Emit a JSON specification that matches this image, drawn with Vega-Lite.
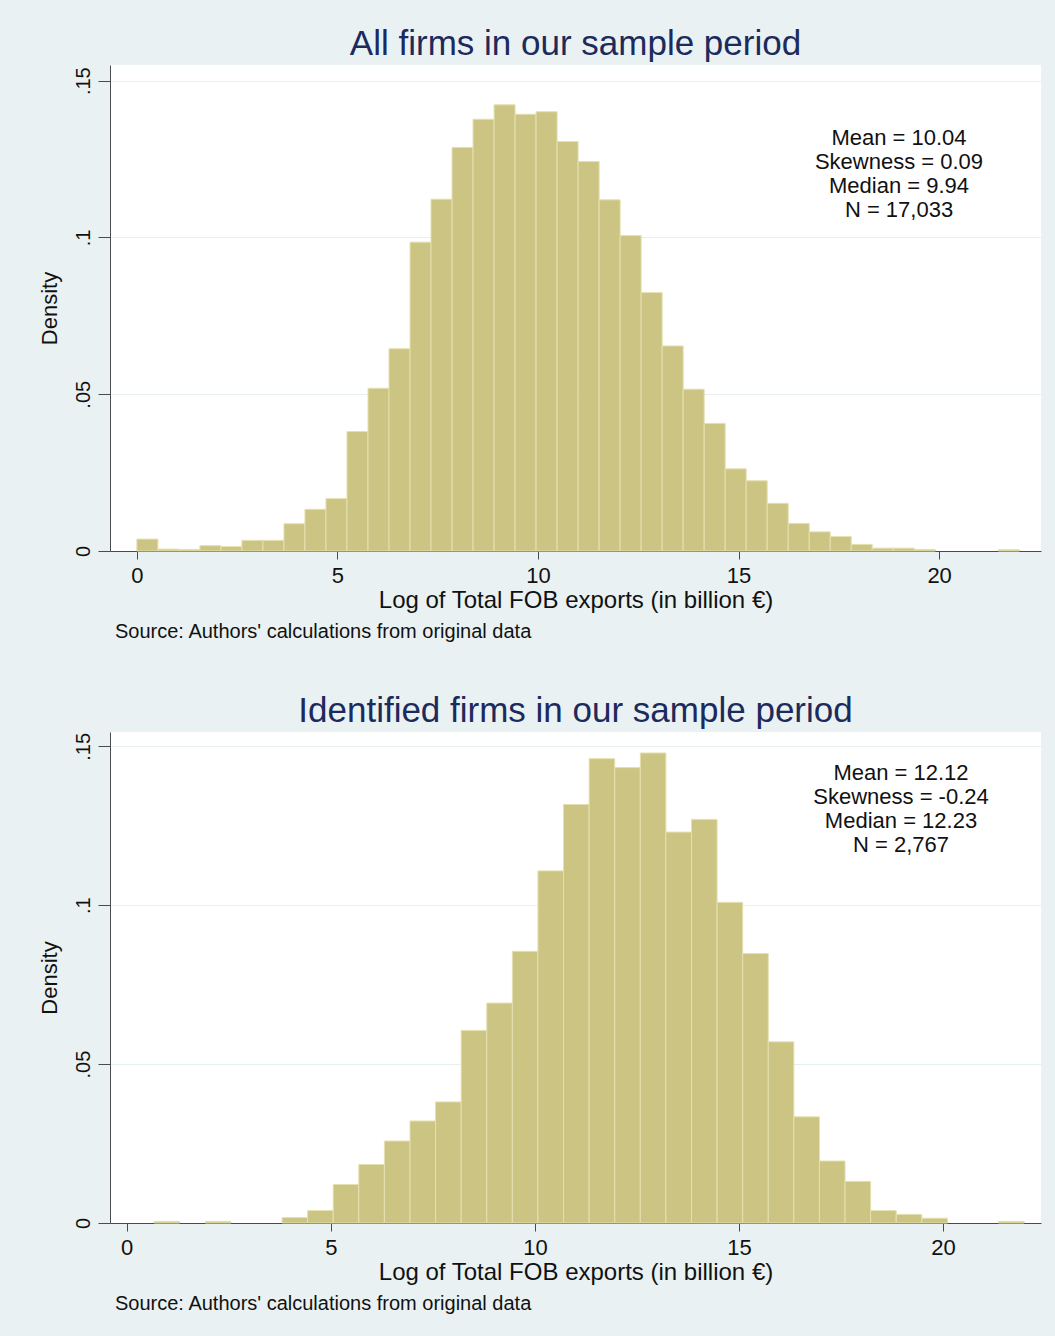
{
  "$schema": "https://vega.github.io/schema/vega-lite/v6.json",
  "background": "#eaf1f3",
  "padding": {"left": 38, "top": 27, "right": 14, "bottom": 22},
  "config": {
    "font": "Liberation Sans",
    "view": {"fill": "white", "stroke": null},
    "axis": {"domainColor": "#4a4a4a", "tickColor": "#4a4a4a", "labelColor": "#111", "titleColor": "#111", "labelFont": "Liberation Sans", "titleFont": "Liberation Sans", "titleFontWeight": "normal"},
    "axisX": {"grid": false, "tickSize": 8, "labelFontSize": 22, "labelPadding": 6, "titleFontSize": 24, "titlePadding": 2},
    "axisY": {"grid": true, "gridColor": "#e6eff2", "gridWidth": 1.2, "tickSize": 12, "labelFontSize": 20, "labelAngle": -90, "labelPadding": 5, "titleFontSize": 22, "titlePadding": 12},
    "title": {"fontSize": 35, "fontWeight": "normal", "color": "#1c2a5c", "font": "Liberation Sans"}
  },
  "datasets": {
    "all": [
      {"x0": 0.000, "x1": 0.524, "density": 0.0038},
      {"x0": 0.524, "x1": 1.048, "density": 0.0006},
      {"x0": 1.048, "x1": 1.571, "density": 0.0005},
      {"x0": 1.571, "x1": 2.095, "density": 0.0017},
      {"x0": 2.095, "x1": 2.619, "density": 0.0014},
      {"x0": 2.619, "x1": 3.143, "density": 0.0034},
      {"x0": 3.143, "x1": 3.667, "density": 0.0034},
      {"x0": 3.667, "x1": 4.190, "density": 0.0087},
      {"x0": 4.190, "x1": 4.714, "density": 0.0133},
      {"x0": 4.714, "x1": 5.238, "density": 0.0167},
      {"x0": 5.238, "x1": 5.762, "density": 0.0381},
      {"x0": 5.762, "x1": 6.286, "density": 0.0519},
      {"x0": 6.286, "x1": 6.810, "density": 0.0645},
      {"x0": 6.810, "x1": 7.333, "density": 0.0985},
      {"x0": 7.333, "x1": 7.857, "density": 0.1122},
      {"x0": 7.857, "x1": 8.381, "density": 0.1287},
      {"x0": 8.381, "x1": 8.905, "density": 0.1377},
      {"x0": 8.905, "x1": 9.429, "density": 0.1423},
      {"x0": 9.429, "x1": 9.952, "density": 0.1393},
      {"x0": 9.952, "x1": 10.476, "density": 0.1401},
      {"x0": 10.476, "x1": 11.000, "density": 0.1306},
      {"x0": 11.000, "x1": 11.524, "density": 0.1242},
      {"x0": 11.524, "x1": 12.048, "density": 0.1120},
      {"x0": 12.048, "x1": 12.571, "density": 0.1006},
      {"x0": 12.571, "x1": 13.095, "density": 0.0824},
      {"x0": 13.095, "x1": 13.619, "density": 0.0654},
      {"x0": 13.619, "x1": 14.143, "density": 0.0516},
      {"x0": 14.143, "x1": 14.667, "density": 0.0407},
      {"x0": 14.667, "x1": 15.190, "density": 0.0262},
      {"x0": 15.190, "x1": 15.714, "density": 0.0224},
      {"x0": 15.714, "x1": 16.238, "density": 0.0152},
      {"x0": 16.238, "x1": 16.762, "density": 0.0088},
      {"x0": 16.762, "x1": 17.286, "density": 0.0061},
      {"x0": 17.286, "x1": 17.810, "density": 0.0046},
      {"x0": 17.810, "x1": 18.333, "density": 0.0021},
      {"x0": 18.333, "x1": 18.857, "density": 0.0009},
      {"x0": 18.857, "x1": 19.381, "density": 0.0009},
      {"x0": 19.381, "x1": 19.905, "density": 0.0005},
      {"x0": 21.476, "x1": 22.000, "density": 0.0004}
    ],
    "identified": [
      {"x0": 0.670, "x1": 1.297, "density": 0.0005},
      {"x0": 1.924, "x1": 2.551, "density": 0.0005},
      {"x0": 3.805, "x1": 4.432, "density": 0.0017},
      {"x0": 4.432, "x1": 5.059, "density": 0.0039},
      {"x0": 5.059, "x1": 5.686, "density": 0.0121},
      {"x0": 5.686, "x1": 6.313, "density": 0.0184},
      {"x0": 6.313, "x1": 6.940, "density": 0.0258},
      {"x0": 6.940, "x1": 7.567, "density": 0.0321},
      {"x0": 7.567, "x1": 8.194, "density": 0.0381},
      {"x0": 8.194, "x1": 8.821, "density": 0.0606},
      {"x0": 8.821, "x1": 9.448, "density": 0.0692},
      {"x0": 9.448, "x1": 10.075, "density": 0.0855},
      {"x0": 10.075, "x1": 10.702, "density": 0.1108},
      {"x0": 10.702, "x1": 11.329, "density": 0.1317},
      {"x0": 11.329, "x1": 11.956, "density": 0.1461},
      {"x0": 11.956, "x1": 12.583, "density": 0.1433},
      {"x0": 12.583, "x1": 13.210, "density": 0.1479},
      {"x0": 13.210, "x1": 13.837, "density": 0.1230},
      {"x0": 13.837, "x1": 14.464, "density": 0.1270},
      {"x0": 14.464, "x1": 15.091, "density": 0.1009},
      {"x0": 15.091, "x1": 15.718, "density": 0.0848},
      {"x0": 15.718, "x1": 16.345, "density": 0.0570},
      {"x0": 16.345, "x1": 16.972, "density": 0.0334},
      {"x0": 16.972, "x1": 17.599, "density": 0.0195},
      {"x0": 17.599, "x1": 18.226, "density": 0.0131},
      {"x0": 18.226, "x1": 18.853, "density": 0.0039},
      {"x0": 18.853, "x1": 19.480, "density": 0.0027},
      {"x0": 19.480, "x1": 20.107, "density": 0.0015},
      {"x0": 21.361, "x1": 21.988, "density": 0.0005}
    ],
    "statsAll": [
      {"lx": 19.0, "ly": 0.1348, "label": ["Mean = 10.04", "Skewness = 0.09", "Median = 9.94", "N = 17,033"]}
    ],
    "statsId": [
      {"lx": 18.97, "ly": 0.1448, "label": ["Mean = 12.12", "Skewness = -0.24", "Median = 12.23", "N = 2,767"]}
    ]
  },
  "spacing": 52,
  "vconcat": [
    {
      "title": {"text": "Source: Authors' calculations from original data", "orient": "bottom", "anchor": "start", "fontSize": 20, "color": "#111", "dx": 77, "offset": 10},
      "vconcat": [
        {
          "title": {"text": "All firms in our sample period", "anchor": "middle", "frame": "group", "offset": 3},
          "width": 931,
          "height": 486,
          "layer": [
            {
              "data": {"name": "all"},
              "mark": {"type": "rect", "fill": "#ccc482", "stroke": "#e4e0b0", "strokeWidth": 1},
              "encoding": {
                "x": {"field": "x0", "type": "quantitative", "scale": {"domain": [-0.67, 22.54], "nice": false, "zero": false}, "axis": {"values": [0, 5, 10, 15, 20]}, "title": "Log of Total FOB exports (in billion €)"},
                "x2": {"field": "x1"},
                "y": {"field": "density", "type": "quantitative", "scale": {"domain": [0, 0.155], "nice": false}, "axis": {"values": [0, 0.05, 0.1, 0.15], "labelExpr": "datum.value == 0 ? '0' : replace(format(datum.value, '.2~f'), '0.', '.')"}, "title": "Density"},
                "y2": {"datum": 0}
              }
            },
            {
              "data": {"name": "statsAll"},
              "mark": {"type": "text", "fontSize": 22, "lineHeight": 24, "align": "center", "baseline": "top", "color": "#111"},
              "encoding": {
                "x": {"field": "lx", "type": "quantitative"},
                "y": {"field": "ly", "type": "quantitative"},
                "text": {"field": "label"}
              }
            }
          ]
        }
      ]
    },
    {
      "title": {"text": "Source: Authors' calculations from original data", "orient": "bottom", "anchor": "start", "fontSize": 20, "color": "#111", "dx": 77, "offset": 10},
      "vconcat": [
        {
          "title": {"text": "Identified firms in our sample period", "anchor": "middle", "frame": "group", "offset": 3},
          "width": 931,
          "height": 491,
          "layer": [
            {
              "data": {"name": "identified"},
              "mark": {"type": "rect", "fill": "#ccc482", "stroke": "#e4e0b0", "strokeWidth": 1},
              "encoding": {
                "x": {"field": "x0", "type": "quantitative", "scale": {"domain": [-0.41, 22.4], "nice": false, "zero": false}, "axis": {"values": [0, 5, 10, 15, 20]}, "title": "Log of Total FOB exports (in billion €)"},
                "x2": {"field": "x1"},
                "y": {"field": "density", "type": "quantitative", "scale": {"domain": [0, 0.1545], "nice": false}, "axis": {"values": [0, 0.05, 0.1, 0.15], "labelExpr": "datum.value == 0 ? '0' : replace(format(datum.value, '.2~f'), '0.', '.')"}, "title": "Density"},
                "y2": {"datum": 0}
              }
            },
            {
              "data": {"name": "statsId"},
              "mark": {"type": "text", "fontSize": 22, "lineHeight": 24, "align": "center", "baseline": "top", "color": "#111"},
              "encoding": {
                "x": {"field": "lx", "type": "quantitative"},
                "y": {"field": "ly", "type": "quantitative"},
                "text": {"field": "label"}
              }
            }
          ]
        }
      ]
    }
  ]
}
